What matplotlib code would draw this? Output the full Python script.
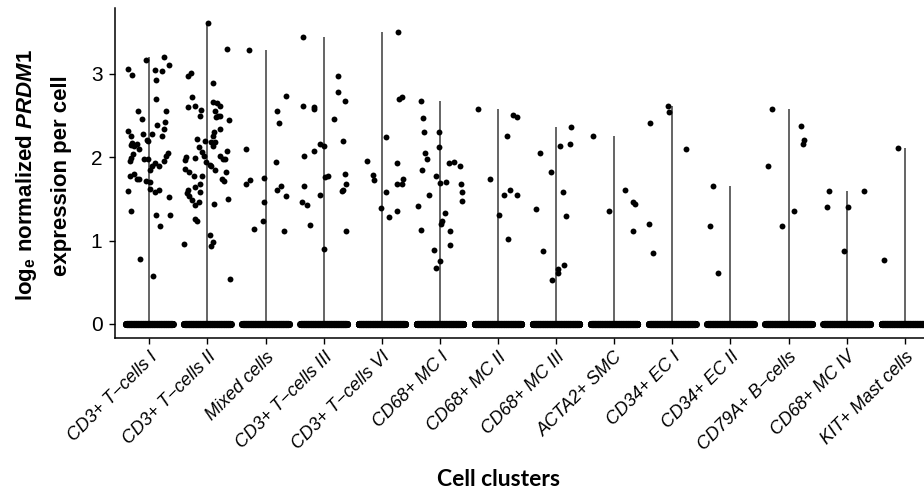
import numpy as np
import matplotlib.pyplot as plt

plt.rcParams['font.family'] = ['Liberation Sans', 'DejaVu Sans']
plt.rcParams['mathtext.fontset'] = 'custom'
plt.rcParams['mathtext.rm'] = 'Liberation Sans:bold'
plt.rcParams['mathtext.bf'] = 'Liberation Sans:bold'
plt.rcParams['mathtext.it'] = 'Liberation Sans:italic:bold'

clusters = ['CD3+ T\u2212cells I', 'CD3+ T\u2212cells II', 'Mixed cells',
            'CD3+ T\u2212cells III', 'CD3+ T\u2212cells VI', 'CD68+ MC I',
            'CD68+ MC II', 'CD68+ MC III', 'ACTA2+ SMC', 'CD34+ EC I',
            'CD34+ EC II', 'CD79A+ B\u2212cells', 'CD68+ MC IV', 'KIT+ Mast cells']

# expression of the cells that are not zero, read per cluster
expr = [
    [3.06, 2.99, 3.17, 3.05, 3.04, 3.20, 3.11, 2.93, 2.70, 2.56, 2.46, 2.56, 2.42, 2.39,
     2.34, 2.31, 2.26, 2.28, 2.28, 2.26, 2.15, 2.13, 2.17, 2.16, 2.10, 2.21, 2.20, 2.04,
     1.99, 1.96, 1.98, 1.98, 2.05, 2.02, 1.96, 1.93, 1.90, 1.85, 1.89, 1.78, 1.80, 1.74,
     1.74, 1.71, 1.70, 1.62, 1.58, 1.61, 1.59, 1.52, 1.36, 1.31, 1.31, 1.18, 0.78, 0.58],
    [3.61, 3.30, 3.01, 2.98, 2.89, 2.72, 2.60, 2.62, 2.57, 2.50, 2.66, 2.65, 2.61, 2.55,
     2.50, 2.45, 2.48, 2.50, 2.34, 2.30, 2.26, 2.22, 2.20, 2.12, 2.18, 2.18, 2.14, 2.06,
     2.02, 2.00, 1.99, 1.97, 2.02, 1.98, 2.08, 1.98, 1.94, 1.91, 1.85, 1.89, 1.86, 1.82,
     1.78, 1.77, 1.82, 1.74, 1.71, 1.68, 1.64, 1.61, 1.58, 1.57, 1.54, 1.49, 1.43, 1.46,
     1.44, 1.50, 1.26, 1.23, 0.96, 1.07, 0.98, 0.94, 0.54],
    [3.29, 2.74, 2.56, 2.41, 2.10, 1.94, 1.73, 1.68, 1.75, 1.61, 1.66, 1.54, 1.46, 1.24,
     1.14, 1.12],
    [3.44, 2.98, 2.78, 2.67, 2.61, 2.60, 2.58, 2.46, 2.20, 2.16, 2.14, 2.08, 2.02, 1.80,
     1.76, 1.77, 1.68, 1.66, 1.61, 1.59, 1.55, 1.46, 1.43, 1.19, 1.12, 0.90],
    [3.50, 2.70, 2.72, 2.24, 1.96, 1.93, 1.79, 1.73, 1.74, 1.68, 1.68, 1.58, 1.39, 1.36,
     1.28],
    [2.68, 2.47, 2.30, 2.30, 2.12, 2.05, 1.98, 1.85, 1.78, 1.69, 1.70, 1.93, 1.94, 1.90,
     1.68, 1.58, 1.47, 1.55, 1.42, 1.33, 1.24, 1.20, 1.13, 1.11, 0.95, 0.89, 0.76, 0.67],
    [2.58, 2.51, 2.48, 2.26, 1.74, 1.61, 1.55, 1.55, 1.31, 1.02],
    [2.36, 2.14, 2.16, 2.05, 1.82, 1.58, 1.38, 1.30, 0.87, 0.71, 0.66, 0.61, 0.53],
    [2.25, 1.61, 1.46, 1.44, 1.36, 1.12],
    [2.41, 1.20, 0.85, 2.61, 2.54, 2.10],
    [1.66, 1.18, 0.61],
    [2.58, 2.37, 2.21, 2.16, 1.90, 1.35, 1.18],
    [1.60, 1.40, 1.40, 1.59, 0.88],
    [2.11, 0.77],
]

# horizontal jitter of those cells
jitter = [
    [-0.37, -0.29, -0.05, 0.09, 0.22, 0.25, 0.34, 0.11, 0.11, -0.19, -0.13, 0.29, 0.27, 0.14,
     0.25, -0.37, -0.32, -0.10, 0.04, 0.22, -0.32, -0.26, -0.30, -0.22, -0.17, -0.04, -0.02, -0.28,
     -0.32, -0.33, -0.09, -0.03, 0.32, 0.28, 0.25, 0.10, 0.17, 0.02, 0.05, -0.34, -0.26, -0.22,
     -0.17, -0.05, 0.01, 0.02, 0.09, 0.17, -0.37, 0.34, -0.31, 0.12, 0.36, 0.18, -0.16, 0.07],
    [0.01, 0.34, -0.29, -0.33, 0.09, -0.26, -0.33, -0.21, -0.11, -0.12, 0.10, 0.17, 0.22, 0.13,
     0.18, 0.37, 0.14, 0.21, 0.22, 0.12, 0.10, -0.18, -0.04, -0.15, 0.06, 0.13, 0.09, -0.10,
     -0.06, -0.36, -0.22, -0.38, 0.21, 0.26, 0.33, 0.30, -0.02, 0.04, 0.13, 0.07, -0.38, -0.32,
     -0.23, -0.09, 0.32, 0.25, 0.28, -0.12, -0.22, -0.33, -0.13, -0.35, -0.32, -0.27, -0.22, -0.14,
     0.11, 0.35, -0.21, -0.18, -0.40, 0.05, 0.09, 0.07, 0.39],
    [-0.29, 0.36, 0.19, 0.23, -0.33, 0.18, -0.27, -0.34, -0.03, 0.19, 0.26, 0.35, -0.02, -0.05,
     -0.20, 0.32],
    [-0.36, 0.24, 0.24, 0.37, -0.36, -0.17, -0.16, 0.18, 0.33, -0.07, 0.00, -0.16, -0.33, 0.36,
     0.03, 0.07, 0.39, -0.34, 0.33, 0.31, -0.06, -0.38, -0.28, -0.23, 0.38, 0.00],
    [0.28, 0.30, 0.35, 0.07, -0.25, 0.26, -0.15, -0.14, 0.37, 0.26, 0.34, 0.08, -0.01, 0.27,
     0.13],
    [-0.32, -0.29, -0.28, -0.01, -0.01, -0.25, -0.23, -0.30, -0.07, 0.00, 0.11, 0.15, 0.24, 0.35,
     0.36, 0.38, 0.38, -0.19, -0.38, 0.08, 0.03, 0.02, -0.32, 0.17, 0.17, -0.10, 0.01, -0.06],
    [-0.34, 0.26, 0.32, 0.16, -0.13, 0.20, 0.11, 0.32, 0.02, 0.17],
    [0.25, 0.07, 0.24, -0.28, -0.09, 0.11, -0.35, 0.17, -0.23, 0.13, 0.03, 0.04, -0.07],
    [-0.37, 0.19, 0.32, 0.35, -0.09, 0.32],
    [-0.38, -0.40, -0.34, -0.07, -0.06, 0.23],
    [-0.30, -0.36, -0.21],
    [-0.29, 0.22, 0.26, 0.25, -0.35, 0.09, -0.11],
    [-0.30, -0.34, 0.03, 0.29, -0.05],
    [-0.12, -0.36],
]

fig = plt.figure(figsize=(9.24, 4.96), dpi=100)
ax = fig.add_axes([115 / 924, 158 / 496, 809 / 924, 330 / 496])

for i, (vals, offs) in enumerate(zip(expr, jitter)):
    # violin is only a line: nearly all cells sit at zero
    ax.vlines(i, 0, max(vals), color='#3a3a3a', lw=1.1, zorder=1)
    zx = i + np.linspace(-0.40, 0.40, 300)
    ax.scatter(zx, np.zeros_like(zx), s=26, c='black', lw=0, zorder=2)
    ax.scatter(i + np.array(offs), vals, s=18, c='black', lw=0, zorder=3)

ax.set_xlim(-0.59, 13.33)
ax.set_ylim(-0.168, 3.79)
ax.set_yticks([0, 1, 2, 3])
ax.set_xticks(range(len(clusters)))
ax.set_xticklabels(clusters, rotation=45, ha='right', va='top',
                   rotation_mode='anchor', style='italic', fontsize=13)
ax.tick_params(axis='y', labelsize=15, length=4.5, width=1, pad=4.5)
ax.tick_params(axis='x', length=4.5, width=1, pad=3)
for s in ['top', 'right']:
    ax.spines[s].set_visible(False)
for s in ['left', 'bottom']:
    ax.spines[s].set_linewidth(1.1)

fig.text(27 / 924, 1 - 175 / 496, r'$\mathbf{log_e}$ normalized $\mathit{PRDM1}$',
         rotation=90, ha='center', va='center', fontsize=16, fontweight='bold')
fig.text(62 / 924, 1 - 176 / 496, 'expression per cell',
         rotation=90, ha='center', va='center', fontsize=16, fontweight='bold')
fig.text(499 / 924, 1 - 479 / 496, 'Cell clusters', ha='center', va='center',
         fontsize=16.5, fontweight='bold', family=['Lato', 'DejaVu Sans'])

fig.savefig('out.png', dpi=100)
